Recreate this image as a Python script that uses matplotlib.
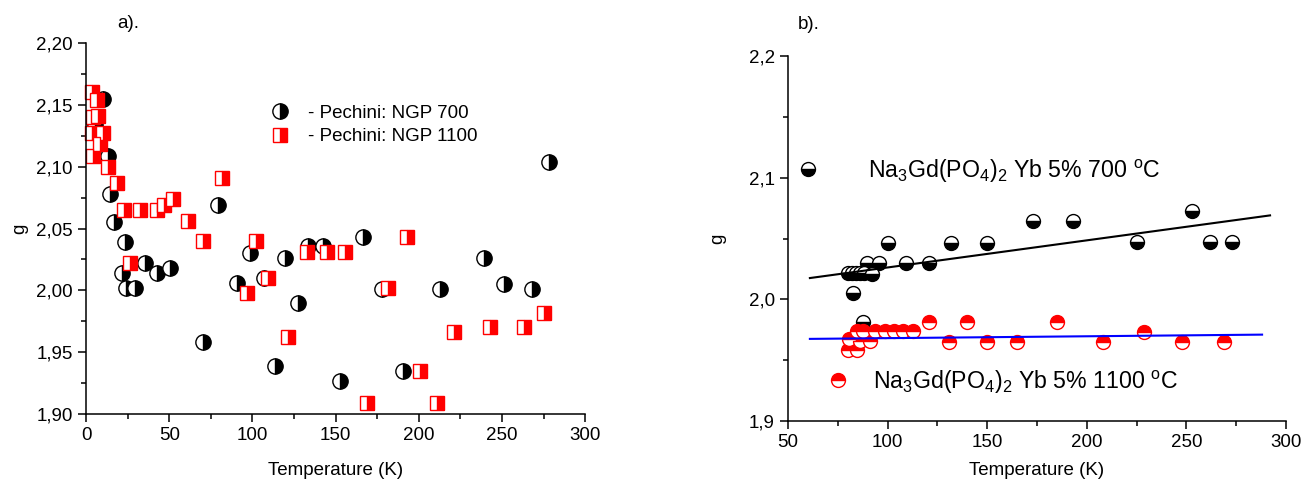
import numpy as np
import matplotlib
matplotlib.use("Agg")
import matplotlib.pyplot as plt
from matplotlib.ticker import MultipleLocator, FuncFormatter
from matplotlib.lines import Line2D

plt.rcParams['font.family'] = ['Liberation Sans', 'DejaVu Sans']
plt.rcParams['mathtext.fontset'] = 'custom'
plt.rcParams['mathtext.rm'] = 'Liberation Sans'
plt.rcParams['mathtext.it'] = 'Liberation Sans:italic'

# ---- panel a) : Pechini NGP 700 / NGP 1100
T_700 = [10.2, 6.6, 5.4, 13.3, 14.4, 17, 23.5, 21.5, 24, 29.5, 35.5, 42.5, 50.5,
         70.5, 79.5, 91, 98.6, 107, 113.6, 119.7, 127.7, 133.6, 142.6, 152.7,
         166.7, 178, 190.8, 213, 239, 251, 268, 278]
g_700 = [2.155, 2.140, 2.134, 2.109, 2.078, 2.055, 2.039, 2.014, 2.002, 2.002,
         2.022, 2.014, 2.018, 1.958, 2.069, 2.006, 2.030, 2.010, 1.939, 2.026,
         1.990, 2.036, 2.036, 1.927, 2.043, 2.001, 1.935, 2.001, 2.026, 2.005,
         2.001, 2.104]

T_1100 = [3.4, 6.4, 4.0, 7.0, 3.4, 10.4, 8.4, 4.3, 13.3, 18.5, 22.8, 26.5, 32.5,
          42.5, 47, 52, 61, 70.5, 81.5, 96.6, 102, 109.6, 121.6, 132.7, 144.8,
          155.7, 168.8, 181.8, 193, 200.8, 211, 221.4, 243, 263, 275]
g_1100 = [2.160, 2.154, 2.140, 2.141, 2.127, 2.127, 2.118, 2.109, 2.100, 2.087,
          2.065, 2.022, 2.065, 2.065, 2.069, 2.074, 2.056, 2.040, 2.091, 1.998,
          2.040, 2.010, 1.962, 2.031, 2.031, 2.031, 1.909, 2.002, 2.043, 1.935,
          1.909, 1.966, 1.970, 1.970, 1.982]

# ---- panel b) : Na3Gd(PO4)2 Yb 5%
T_b700 = [80, 82, 84, 86, 88, 92, 89.6, 95.7, 109, 121, 82.6, 87.6, 100, 132, 150,
          173, 193, 225, 253, 262, 273]
g_b700 = [2.022, 2.022, 2.022, 2.022, 2.022, 2.021, 2.030, 2.030, 2.030, 2.030,
          2.005, 1.981, 2.046, 2.046, 2.046, 2.064, 2.064, 2.047, 2.073, 2.047,
          2.047]

T_b1100 = [84.6, 87.6, 93.6, 98.6, 103, 107.7, 112.7, 80.6, 86, 91, 80, 84.6,
           120.7, 140, 131, 150, 165, 185, 208, 228.6, 248, 269]
g_b1100 = [1.974, 1.974, 1.974, 1.974, 1.974, 1.974, 1.974, 1.967, 1.966, 1.966,
           1.958, 1.958, 1.981, 1.981, 1.965, 1.965, 1.965, 1.981, 1.965, 1.973,
           1.965, 1.965]

# linear fits (end points)
fit_T_700 = [61, 292]
fit_g_700 = [2.0175, 2.069]
fit_T_1100 = [61, 288]
fit_g_1100 = [1.9675, 1.971]

lbl_a = ["- Pechini: NGP 700", "- Pechini: NGP 1100"]
lbl_b = [r"Na$_3$Gd(PO$_4$)$_2$ Yb 5% 700 $^{\rm o}$C",
         r"Na$_3$Gd(PO$_4$)$_2$ Yb 5% 1100 $^{\rm o}$C"]

FS = 13.5


def comma(nd):
    return FuncFormatter(lambda v, p: ("{:.%df}" % nd).format(v).replace(".", ","))


def style_axes(ax):
    for s in ["top", "right"]:
        ax.spines[s].set_visible(False)
    for s in ["left", "bottom"]:
        ax.spines[s].set_linewidth(1.1)
    ax.tick_params(which="major", direction="out", length=6, width=1.1, labelsize=FS)
    ax.tick_params(which="minor", direction="out", length=3.5, width=1.1)


fig = plt.figure(figsize=(13.02, 4.8), dpi=100)

# ================= a)
ax1 = fig.add_axes([0.0661, 0.1375, 0.3833, 0.7729])
circ_a = dict(marker="o", ls="none", ms=11, fillstyle="right", mfc="black",
              mfcalt="white", mec="black", mew=1.0, clip_on=False)
sq_a = dict(marker="s", ls="none", ms=10, fillstyle="right", mfc="red",
            mfcalt="white", mec="red", mew=1.0, clip_on=False)
ax1.plot(T_700, g_700, **circ_a)
ax1.plot(T_1100, g_1100, **sq_a)
ax1.set_xlim(0, 300)
ax1.set_ylim(1.90, 2.20)
ax1.xaxis.set_major_locator(MultipleLocator(50))
ax1.xaxis.set_minor_locator(MultipleLocator(25))
ax1.yaxis.set_major_locator(MultipleLocator(0.05))
ax1.yaxis.set_minor_locator(MultipleLocator(0.025))
ax1.yaxis.set_major_formatter(comma(2))
style_axes(ax1)
ax1.set_xlabel("Temperature (K)", fontsize=FS, labelpad=13)
ax1.set_ylabel("g", fontsize=FS, labelpad=6)
ax1.text(0.062, 1.04, "a).", transform=ax1.transAxes, fontsize=FS)
h1 = [Line2D([], [], **circ_a), Line2D([], [], **sq_a)]
ax1.legend(h1, lbl_a, loc="center left", bbox_to_anchor=(0.369, 0.779),
           frameon=False, fontsize=FS, handlelength=1.0, handletextpad=1.0,
           labelspacing=0.35, borderpad=0, borderaxespad=0)

# ================= b)
ax2 = fig.add_axes([0.6052, 0.1229, 0.3825, 0.7604])
circ_b7 = dict(marker="o", ls="none", ms=10, fillstyle="bottom", mfc="black",
               mfcalt="white", mec="black", mew=1.0, clip_on=False)
circ_b11 = dict(marker="o", ls="none", ms=10, fillstyle="top", mfc="red",
                mfcalt="white", mec="red", mew=1.0, clip_on=False)
ax2.plot(T_b700, g_b700, **circ_b7)
ax2.plot(T_b1100, g_b1100, **circ_b11)
ax2.plot(fit_T_700, fit_g_700, color="black", lw=1.5)
ax2.plot(fit_T_1100, fit_g_1100, color="blue", lw=1.5)
ax2.set_xlim(50, 300)
ax2.set_ylim(1.9, 2.2)
ax2.xaxis.set_major_locator(MultipleLocator(50))
ax2.xaxis.set_minor_locator(MultipleLocator(25))
ax2.yaxis.set_major_locator(MultipleLocator(0.1))
ax2.yaxis.set_minor_locator(MultipleLocator(0.05))
ax2.yaxis.set_major_formatter(comma(1))
style_axes(ax2)
ax2.set_xlabel("Temperature (K)", fontsize=FS, labelpad=8)
ax2.set_ylabel("g", fontsize=FS, labelpad=16)
ax2.text(0.02, 1.075, "b).", transform=ax2.transAxes, fontsize=FS)
leg1 = ax2.legend([Line2D([], [], **circ_b7)], [lbl_b[0]], loc="center left",
                  bbox_to_anchor=(0.016, 0.685), frameon=False, fontsize=16.7,
                  handlelength=1.0, handletextpad=2.1, borderpad=0, borderaxespad=0)
ax2.add_artist(leg1)
ax2.legend([Line2D([], [], **circ_b11)], [lbl_b[1]], loc="center left",
           bbox_to_anchor=(0.078, 0.107), frameon=False, fontsize=16.7,
           handlelength=1.0, handletextpad=1.0, borderpad=0, borderaxespad=0)

fig.savefig("out.png", dpi=100)
